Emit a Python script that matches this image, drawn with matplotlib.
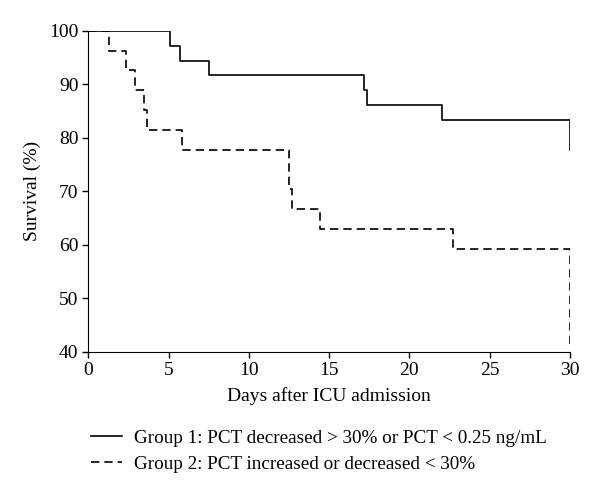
import matplotlib.pyplot as plt

# Kaplan-Meier style survival curves
group1_days = [0, 5.1, 5.7, 7.5, 17.2, 17.35, 22.0, 30.0]
group1_surv = [100, 97.2, 94.4, 91.7, 88.9, 86.1, 83.3, 77.8]

group2_days = [0, 1.27, 2.37, 2.9, 3.5, 3.65, 5.87, 12.5, 12.7, 14.45, 22.7, 30.0]
group2_surv = [100, 96.3, 92.6, 88.9, 85.2, 81.5, 77.8, 70.4, 66.7, 63.0, 59.3, 40.7]

x_ticks = [0, 5, 10, 15, 20, 25, 30]
y_ticks = [40, 50, 60, 70, 80, 90, 100]

label1 = "Group 1: PCT decreased > 30% or PCT < 0.25 ng/mL"
label2 = "Group 2: PCT increased or decreased < 30%"

plt.rcParams["font.family"] = ["Liberation Serif", "DejaVu Serif"]

fig = plt.figure(figsize=(6, 4.97), dpi=100)
ax = fig.add_axes([0.147, 0.292, 0.803, 0.646])

ax.step(group1_days, group1_surv, where="post", color="black", linewidth=1.2, label=label1)
ax.step(group2_days, group2_surv, where="post", color="black", linewidth=1.2,
        linestyle=(0, (5, 3)), label=label2)

ax.set_xlim(0, 30)
ax.set_ylim(40, 100)
ax.set_xticks(x_ticks)
ax.set_yticks(y_ticks)
ax.spines["top"].set_visible(False)
ax.spines["right"].set_visible(False)
ax.tick_params(direction="out", length=4, width=1, labelsize=14, pad=3)
ax.set_xlabel("Days after ICU admission", fontsize=14, labelpad=6)
ax.set_ylabel("Survival (%)", fontsize=14, labelpad=6)

fig.legend(loc="center left", bbox_to_anchor=(0.1225, 0.092), frameon=False, fontsize=13.8,
           handlelength=1.65, handletextpad=0.62, labelspacing=0.45)

fig.savefig("out.png", dpi=100)
